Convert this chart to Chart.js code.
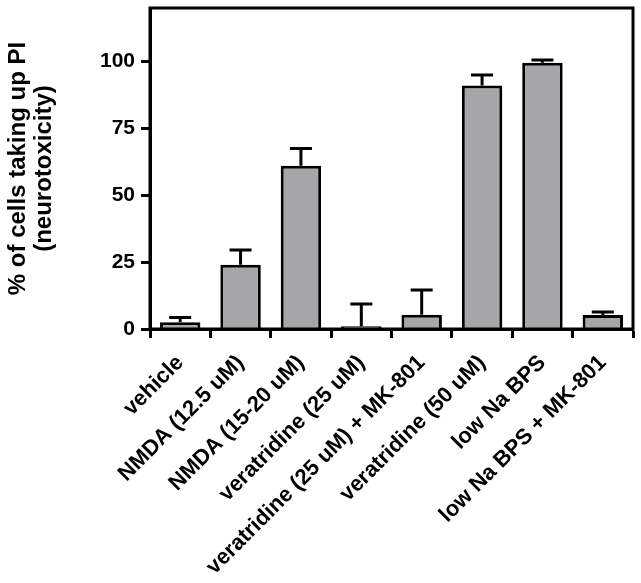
<!DOCTYPE html>
<html>
<head>
<meta charset="utf-8">
<script src="https://cdn.jsdelivr.net/npm/chart.js@4"></script>
<style>
  html, body { margin: 0; padding: 0; background: #fff; }
  #wrap { width: 641px; height: 583px; }
</style>
</head>
<body>
<div id="wrap"><canvas id="myChart"></canvas></div>
<script>
  const categories = ['vehicle', 'NMDA (12.5 uM)', 'NMDA (15-20 uM)', 'veratridine (25 uM)',
    'veratridine (25 uM) + MK-801', 'veratridine (50 uM)', 'low Na BPS', 'low Na BPS + MK-801'];
  const pctPI = [2.5, 24, 61, 1.0, 5.3, 91, 99.5, 5.2];
  const errPI = [1.8, 5.5, 6.5, 8.3, 9.3, 4.0, 1.1, 1.2];
  const yTicks = [0, 25, 50, 75, 100];

  const family = "'Liberation Sans', Arial, sans-serif";

  // upper error bars, placed through the chart's own scales
  const errorBars = {
    id: 'errorBars',
    afterDatasetsDraw(chart) {
      const { ctx, scales: { x, y } } = chart;
      ctx.save();
      ctx.strokeStyle = '#000';
      ctx.lineWidth = 3;
      pctPI.forEach((v, i) => {
        const px = x.getPixelForValue(i);
        const y0 = y.getPixelForValue(v);
        const y1 = y.getPixelForValue(v + errPI[i]);
        ctx.beginPath();
        ctx.moveTo(px, y0);
        ctx.lineTo(px, y1);
        ctx.moveTo(px - 11, y1);
        ctx.lineTo(px + 11, y1);
        ctx.stroke();
      });
      ctx.restore();
    }
  };

  // closed frame around the plot area
  const frame = {
    id: 'frame',
    afterDraw(chart) {
      const { ctx, chartArea: a } = chart;
      ctx.save();
      ctx.strokeStyle = '#000';
      ctx.lineWidth = 3;
      ctx.strokeRect(a.left, a.top, a.right - a.left, a.bottom - a.top);
      ctx.restore();
    }
  };

  new Chart(document.getElementById('myChart'), {
    type: 'bar',
    data: {
      labels: categories,
      datasets: [{
        data: pctPI,
        backgroundColor: '#a6a5aa',
        borderColor: '#000',
        borderWidth: 3,
        borderSkipped: 'start',
        barPercentage: 0.67,
        categoryPercentage: 1
      }]
    },
    options: {
      responsive: true,
      maintainAspectRatio: false,
      animation: false,
      layout: { padding: { top: 8, right: 8, left: 0, bottom: 0 } },
      plugins: { legend: { display: false }, tooltip: { enabled: false } },
      scales: {
        x: {
          grid: { drawOnChartArea: false, drawTicks: true, tickLength: 9, tickWidth: 3, tickColor: '#000' },
          border: { display: true, color: '#000', width: 3 },
          ticks: { color: '#000', font: { family, size: 22, weight: 'bold' },
                   maxRotation: 45, minRotation: 45, autoSkip: false, padding: 12 },
          afterFit(scale) { scale.height = 254; scale.paddingLeft = 0; scale.paddingRight = 0; }
        },
        y: {
          min: 0,
          max: 120,
          grid: { drawOnChartArea: false, drawTicks: true, tickLength: 9, tickWidth: 3, tickColor: '#000' },
          border: { display: true, color: '#000', width: 3 },
          ticks: { color: '#000', font: { family, size: 21, weight: 'bold' }, stepSize: 25, padding: 6 },
          afterBuildTicks(scale) { scale.ticks = yTicks.map(v => ({ value: v })); },
          afterFit(scale) { scale.width = 150; scale.paddingTop = 0; scale.paddingBottom = 0; },
          title: {
            display: true,
            text: ['% of cells taking up PI', '(neurotoxicity)'],
            color: '#000',
            font: { family, size: 24, weight: 'bold', lineHeight: 1.1 },
            padding: { top: 5, bottom: 0 }
          }
        }
      }
    },
    plugins: [errorBars, frame]
  });
</script>
</body>
</html>
